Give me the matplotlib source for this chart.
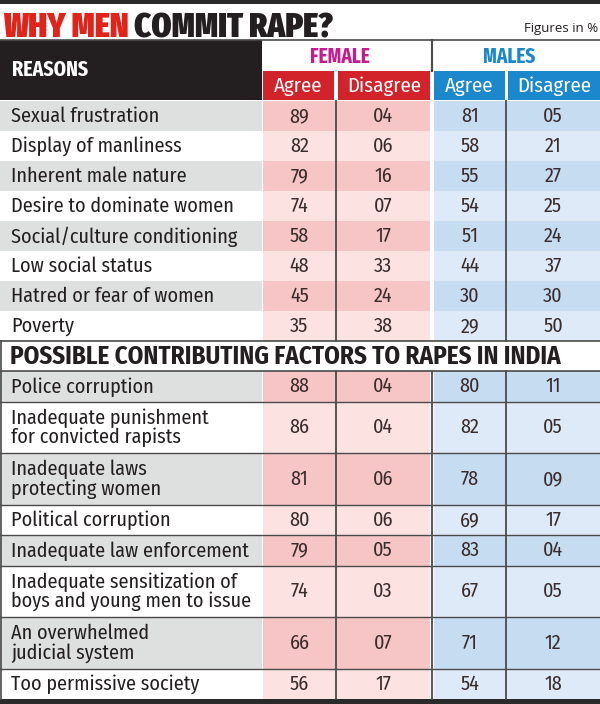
import matplotlib
matplotlib.use("Agg")
import matplotlib.pyplot as plt
from matplotlib.patches import Rectangle

# ---------------- data ----------------
title_red = "WHY MEN "
title_dark = "COMMIT RAPE?"
note = "Figures in %"
col_header = "REASONS"
groups = ["FEMALE", "MALES"]
subcols = ["Agree", "Disagree"]
section2_title = "POSSIBLE CONTRIBUTING FACTORS TO RAPES IN INDIA"

reasons = ["Sexual frustration", "Display of manliness", "Inherent male nature",
           "Desire to dominate women", "Social/culture conditioning",
           "Low social status", "Hatred or fear of women", "Poverty"]
r_female_agree = [89, 82, 79, 74, 58, 48, 45, 35]
r_female_disagree = [4, 6, 16, 7, 17, 33, 24, 38]
r_male_agree = [81, 58, 55, 54, 51, 44, 30, 29]
r_male_disagree = [5, 21, 27, 25, 24, 37, 30, 50]

factors = ["Police corruption",
           "Inadequate punishment\nfor convicted rapists",
           "Inadequate laws\nprotecting women",
           "Political corruption",
           "Inadequate law enforcement",
           "Inadequate sensitization of\nboys and young men to issue",
           "An overwhelmed\njudicial system",
           "Too permissive society"]
f_female_agree = [88, 86, 81, 80, 79, 74, 66, 56]
f_female_disagree = [4, 4, 6, 6, 5, 3, 7, 17]
f_male_agree = [80, 82, 78, 69, 83, 67, 71, 54]
f_male_disagree = [11, 5, 9, 17, 4, 5, 12, 18]

# ---------------- style ----------------
BODY = ["Fira Sans Condensed", "DejaVu Sans"]
HEAVY = ["Fira Sans Extra Condensed", "DejaVu Sans"]
DARK = "#231f20"
LINE = "#4a4a4a"
GRAY = "#dedfdf"
PINK_D, PINK_L = "#f5c6c5", "#fce3e2"
BLUE_D, BLUE_L = "#c6dcf1", "#deeaf7"
RED_H, BLUE_H = "#d2232a", "#1b87cd"
MAGENTA = "#c81a8c"

W, H = 600, 704
fig = plt.figure(figsize=(W / 100, H / 100), dpi=100)
ax = fig.add_axes([0, 0, 1, 1])
ax.set_xlim(0, W)
ax.set_ylim(H, 0)
ax.axis("off")

# column geometry
LABEL_R = 262
cols = [(263, 336), (336, 430), (434, 506), (506, 600)]
col_centers = [(a + b) / 2 for a, b in cols]

def rect(x0, y0, x1, y1, color, z=1):
    ax.add_patch(Rectangle((x0, y0), x1 - x0, y1 - y0, facecolor=color,
                           edgecolor="none", zorder=z))

# top band & title
rect(0, 0, W, 4, "#2a2a2a")
t1 = ax.text(3, 37, title_red, color="#e2231a", fontsize=25, fontweight="black",
             family=HEAVY, va="baseline", ha="left")
ax.annotate(title_dark, xy=(1, 0), xycoords=t1, color=DARK, fontsize=25,
            fontweight="black", family=HEAVY, va="bottom", ha="left")
ax.text(598, 32, note, color=DARK, fontsize=9.5, family=["Open Sans", "DejaVu Sans"],
        va="baseline", ha="right")
ax.plot([0, W], [39.5, 39.5], color=LINE, lw=1.2)

# header
rect(0, 40, LABEL_R, 100, DARK)
ax.text(12, 70, col_header, color="white", fontsize=15.5, fontweight="bold",
        family=HEAVY, va="center", ha="left")
ax.plot([432, 432], [40, 71], color=LINE, lw=1.5)
ax.text(340, 57, groups[0], color=MAGENTA, fontsize=15, fontweight="bold",
        family=HEAVY, va="center", ha="center")
ax.text(509, 57, groups[1], color=BLUE_H, fontsize=15, fontweight="bold",
        family=HEAVY, va="center", ha="center")
hdr_boxes = [(263, 334, RED_H), (338, 430, RED_H), (434, 505, BLUE_H), (508, 600, BLUE_H)]
for i, (a, b, c) in enumerate(hdr_boxes):
    rect(a, 71, b, 100, c)
    ax.text((a + b) / 2, 86.5, subcols[i % 2], color="white", fontsize=15,
            family=BODY, va="center", ha="center")

def draw_rows(labels, fa, fd, ma, md, y_start, heights, lines):
    y = y_start
    for i, lab in enumerate(labels):
        h = heights[i]
        dark = (i % 2 == 0)
        rect(0, y, LABEL_R, y + h, GRAY if dark else "white")
        rect(263, y, 430, y + h, PINK_D if dark else PINK_L)
        rect(434, y, W, y + h, BLUE_D if dark else BLUE_L)
        yc = y + h / 2
        ax.text(11, yc + 0.5, lab, color=DARK, fontsize=14.5, family=BODY,
                va="center", ha="left", linespacing=0.98)
        for xc, v in zip(col_centers, [fa[i], fd[i], ma[i], md[i]]):
            ax.text(xc, yc + 0.5, f"{v:02d}", color="#3a2c2c", fontsize=14.5,
                    family=BODY, va="center", ha="center")
        if lines and i > 0:
            ax.plot([0, W], [y, y], color=LINE, lw=1.0, zorder=3)
        y += h
    return y

# section 1
h1 = [30] * len(reasons)
y_end1 = draw_rows(reasons, r_female_agree, r_female_disagree, r_male_agree,
                   r_male_disagree, 101, h1, False)
for x in (336, 506):
    ax.plot([x, x], [101, y_end1], color=LINE, lw=1.3, zorder=3)

# section 2 header
sec_top = y_end1
sec_bot = sec_top + 30
ax.plot([0, W], [sec_top, sec_top], color=LINE, lw=1.2, zorder=3)
ax.text(10, (sec_top + sec_bot) / 2 + 1, section2_title, color=DARK, fontsize=18,
        fontweight="bold", family=BODY, va="center", ha="left")
ax.plot([0, W], [sec_bot, sec_bot], color=LINE, lw=1.2, zorder=3)

h2 = [30.5 if "\n" not in f else 51.5 for f in factors]
y_end2 = draw_rows(factors, f_female_agree, f_female_disagree, f_male_agree,
                   f_male_disagree, sec_bot, h2, True)
for x in (336, 432, 506):
    ax.plot([x, x], [sec_bot, y_end2], color=LINE, lw=1.3, zorder=3)
ax.plot([0.6, 0.6], [sec_top, y_end2], color=LINE, lw=1.2, zorder=3)
rect(0, y_end2, W, H, "#2a2a2a")

fig.savefig("out.png", dpi=100)
